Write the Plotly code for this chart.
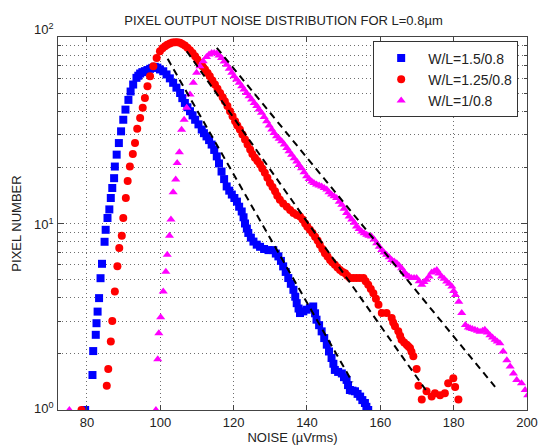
import plotly.graph_objects as go

# Noise histogram, W/L = 1.5/0.8 (blue squares)
noise_15 = [79.5, 81.5, 81.7, 82.4, 82.6, 82.9, 83.3, 83.7, 84.1, 84.8, 85.1, 85.6, 86.1, 86.5,
            86.9, 87.4, 87.6, 88.1, 88.7, 89.3, 89.9, 90.5, 91.3, 91.9, 92.6, 93.5, 94.0,
            94.5, 95.1, 95.8, 96.5, 97.2, 97.8, 98.5, 99.2, 99.9, 100.8, 101.7, 102.6,
            103.5, 104.4, 105.4, 106.0, 106.7, 107.4, 108.1, 108.8, 109.5, 110.4, 111.3,
            111.9, 112.6, 113.3, 114.0, 114.7, 115.4, 116.0, 116.7, 117.4, 118.1, 118.8,
            119.5, 120.2, 120.9, 121.5, 122.2, 122.7, 123.1, 123.6, 124.0, 124.7, 125.4,
            126.3, 127.2, 128.3, 129.5, 130.8, 131.5, 132.2, 132.9, 133.5, 134.2, 134.9,
            135.6, 136.3, 136.8, 137.2, 137.7, 138.1, 139.0, 139.9, 140.8, 141.7, 142.2,
            142.6, 143.3, 144.0, 144.7, 145.4, 146.0, 146.7, 147.2, 147.6, 148.5, 149.5,
            150.1, 150.8, 151.2, 151.7, 152.4, 153.1, 153.8, 154.5, 155.1, 155.8, 156.2,
            156.7]
count_15 = [1.0, 1.54, 2.07, 2.53, 2.92, 3.37, 3.98, 5.09, 6.08, 7.98, 9.25, 10.7, 11.9, 13.7,
            15.5, 17.5, 20.2, 23.4, 27.0, 31.2, 36.0, 40.8, 46.0, 51.0, 55.6, 60.4, 62.0,
            63.7, 64.8, 65.6, 66.5, 67.5, 68.3, 69.2, 68.5, 67.0, 65.5, 63.0, 60.0,
            56.8, 53.5, 50.1, 47.0, 44.3, 42.0, 40.0, 38.0, 36.0, 34.0, 31.9,
            30.5, 29.3, 28.0, 26.5, 24.8, 22.9, 21.0, 19.0, 17.3, 15.8, 15.0,
            14.3, 13.7, 13.1, 12.3, 11.6, 10.8, 10.0, 9.4, 8.9, 8.4, 8.0,
            7.7, 7.5, 7.3, 7.2, 7.2, 6.9, 6.66, 6.3, 5.89, 5.5, 5.1,
            4.75, 4.41, 4.05, 3.74, 3.5, 3.31, 3.38, 3.45, 3.52, 3.59, 3.3,
            3.05, 2.85, 2.64, 2.43, 2.24, 2.06, 1.9, 1.77, 1.64, 1.6, 1.57,
            1.5, 1.45, 1.36, 1.28, 1.27, 1.26, 1.22, 1.18, 1.13, 1.09, 1.04,
            1.0]

# Noise histogram, W/L = 1.25/0.8 (red circles)
noise_125 = [78.5, 85.4, 85.8, 86.5, 86.9, 87.6, 88.3, 88.8, 89.5, 89.9, 90.6, 91.1, 91.7,
             92.5, 93.1, 93.7, 94.5, 95.2, 95.8, 96.5, 97.2, 98.1, 99.0, 99.9, 100.6, 101.3,
             101.9, 102.6, 103.3, 104.0, 104.7, 105.4, 106.0, 106.7, 107.4, 108.1, 108.8,
             109.5, 110.1, 110.8, 111.5, 112.2, 112.9, 113.5, 114.2, 114.9, 115.6, 116.3,
             117.0, 117.6, 118.3, 119.0, 119.7, 120.4, 121.0, 121.7, 122.4, 123.1, 123.8,
             124.5, 125.1, 125.8, 126.5, 127.2, 127.8, 128.5, 129.2, 129.9, 130.6, 131.3,
             131.9, 132.6, 133.5, 134.5, 135.4, 136.3, 137.2, 138.1, 138.8, 139.5, 140.1,
             140.8, 141.5, 142.2, 142.9, 143.5, 144.2, 144.9, 145.6, 146.3, 146.9, 147.6,
             148.3, 149.0, 149.7, 150.4, 151.0, 151.7, 152.6, 153.5, 154.4, 155.4, 156.0,
             156.7, 157.4, 158.1, 158.8, 159.5, 160.4, 161.7, 163.1, 163.5, 164.0, 164.9,
             165.4, 165.8, 166.5, 167.2, 167.6, 168.1, 168.5, 169.0, 169.9, 170.4, 171.3,
             172.6, 174.0, 174.9, 176.3, 177.6, 178.5, 179.9, 180.4, 181.3]
count_125 = [1.0, 1.35, 1.66, 2.33, 3.0, 4.32, 5.89, 7.38, 8.59, 10.7, 13.7, 16.9, 20.2,
             23.6, 27.0, 32.2, 36.8, 41.7, 47.1, 54.4, 61.5, 69.6, 77.2, 83.9, 87.0, 89.3,
             91.0, 92.3, 93.3, 93.8, 93.8, 93.1, 91.8, 90.0, 87.7, 85.0, 82.0,
             78.9, 75.8, 72.6, 69.7, 66.9, 64.2, 61.5, 58.5, 55.6, 52.8, 50.1,
             47.6, 45.2, 42.6, 40.0, 37.6, 35.3, 33.5, 31.9, 30.0, 28.2, 26.5,
             24.9, 23.6, 22.5, 21.6, 20.7, 19.7, 18.7, 17.6, 16.5, 15.7, 14.9,
             14.1, 13.4, 12.8, 12.3, 11.8, 11.4, 11.1, 10.9, 10.5, 10.0, 9.6,
             9.25, 8.9, 8.5, 8.1, 7.69, 7.3, 6.93, 6.65, 6.38, 6.2, 6.0,
             5.8, 5.64, 5.5, 5.41, 5.25, 5.1, 5.1, 5.1, 5.1, 5.1, 4.9,
             4.69, 4.45, 4.23, 3.95, 3.67, 3.31, 3.31, 3.11, 2.95, 2.81, 2.64,
             2.5, 2.38, 2.3, 2.24, 2.2, 2.15, 2.05, 1.94, 1.66, 1.35, 1.14,
             1.26, 1.18, 1.23, 1.2, 1.23, 1.39, 1.48, 1.33, 1.14]

# Noise histogram, W/L = 1/0.8 (magenta triangles)
noise_10 = [75.2, 98.8, 99.3, 99.6, 100.1, 100.8, 101.5, 101.9, 102.5, 102.9, 103.5, 104.2,
            104.6, 105.2, 105.8, 106.5, 107.2, 108.1, 109.0, 109.9, 110.8, 111.7, 112.6,
            113.3, 114.0, 114.7, 115.4, 116.0, 116.7, 117.4, 118.1, 118.8, 119.5, 120.1,
            120.8, 121.5, 122.2, 122.8, 123.5, 124.2, 124.9, 125.6, 126.3, 126.9, 127.6,
            128.3, 129.0, 129.7, 130.4, 131.0, 131.7, 132.4, 133.1, 133.8, 134.5, 135.1,
            135.8, 136.5, 137.2, 137.8, 138.5, 139.2, 139.9, 140.6, 141.3, 141.9, 142.6,
            143.3, 144.0, 144.7, 145.4, 146.0, 146.7, 147.4, 148.1, 148.8, 149.5, 150.1,
            150.8, 151.5, 152.2, 152.9, 153.5, 154.2, 154.9, 155.6, 156.3, 156.9, 157.6,
            158.3, 159.0, 159.7, 160.4, 161.0, 161.7, 162.4, 163.1, 163.8, 164.5, 165.1,
            165.8, 166.5, 167.2, 167.8, 168.5, 169.2, 169.9, 170.6, 171.3, 171.9, 172.6,
            173.3, 174.0, 174.7, 175.4, 176.0, 176.7, 177.4, 178.1, 178.8, 179.5, 180.0,
            180.5, 181.4, 182.2, 183.2, 184.0, 184.5, 185.1, 185.8, 186.5, 187.2, 187.9,
            188.5, 189.2, 189.9, 190.6, 191.3, 191.9, 192.6, 193.5, 194.5, 195.4, 196.3,
            197.2, 198.5, 199.5, 200.2]
count_10 = [1.0, 1.0, 1.87, 2.58, 3.14, 4.32, 5.52, 6.79, 8.59, 10.5, 14.7, 17.2,
            21.1, 24.1, 31.8, 36.0, 41.7, 49.1, 56.8, 64.3, 69.6, 74.1, 78.2,
            80.5, 82.2, 82.0, 81.5, 79.5, 77.2, 74.0, 71.1, 67.5, 64.3, 61.5,
            59.2, 56.8, 54.5, 52.3, 50.1, 48.1, 46.2, 44.3, 42.6, 40.9, 39.2,
            37.2, 35.3, 33.5, 31.9, 30.6, 29.4, 28.5, 27.6, 26.5, 25.4, 24.4,
            23.4, 22.4, 21.5, 20.6, 19.8, 18.8, 17.9, 17.3, 16.8, 16.5, 16.2,
            16.0, 15.8, 15.5, 15.2, 14.7, 14.3, 14.0, 13.7, 13.1, 12.6, 12.0,
            11.4, 10.9, 10.5, 10.1, 9.64, 9.35, 9.06, 8.87, 8.69, 8.6, 8.51,
            8.2, 7.84, 7.5, 7.22, 7.0, 6.79, 6.6, 6.38, 6.25, 6.12, 5.95,
            5.75, 5.5, 5.3, 5.2, 5.1, 5.1, 5.1, 4.9, 4.69, 4.85, 4.99,
            5.2, 5.46, 5.55, 5.64, 5.4, 5.2, 5.05, 4.89, 4.75, 4.59, 4.35,
            4.14, 3.81, 3.31, 2.86, 2.77, 2.74, 2.72, 2.69, 2.66, 2.63, 2.66,
            2.69, 2.6, 2.52, 2.45, 2.38, 2.33, 2.28, 2.06, 1.85, 1.71, 1.57,
            1.45, 1.39, 1.28, 1.2]

# Exponential tail fits (start / end points), one per device
fit_x = [[102.0, 152.4], [107.2, 172.4], [115.4, 191.3]]
fit_y = [[76.4, 1.41], [83.9, 1.28], [87.5, 1.33]]

x_ticks = [80, 100, 120, 140, 160, 180, 200]
y_ticks = [1, 10, 100]
y_ticktext = ["10<sup>0</sup>", "10<sup>1</sup>", "10<sup>2</sup>"]
y_label_shift = [2, 0, 8]   # vertical nudge of each decade label, px
y_minor = [2, 3, 4, 5, 6, 7, 8, 9, 20, 30, 40, 50, 60, 70, 80, 90]

FONT = "Liberation Sans, Arial, sans-serif"
INK = "#222222"
GRID = "#6e6e6e"
FRAME = "#444444"

fig = go.Figure()

series = [
    (noise_15, count_15, "W/L=1.5/0.8", "#0000ff", "square", 8),
    (noise_125, count_125, "W/L=1.25/0.8", "#ff0000", "circle", 8),
    (noise_10, count_10, "W/L=1/0.8", "#ff00ff", "triangle-up", 8),
]
for xs, ys, name, color, symbol, size in series:
    fig.add_trace(go.Scatter(
        x=xs, y=ys, mode="markers", name=name,
        marker=dict(color=color, symbol=symbol, size=size, line=dict(width=0)),
    ))

for fx, fy in zip(fit_x, fit_y):
    fig.add_trace(go.Scatter(
        x=fx, y=fy, mode="lines", showlegend=False, hoverinfo="skip",
        line=dict(color="black", width=2, dash="7px,5px"),
    ))

fig.update_layout(
    width=538, height=448,
    margin=dict(l=58, r=11, t=37, b=38),
    paper_bgcolor="white", plot_bgcolor="white",
    font=dict(family=FONT, size=13, color=INK),
    title=dict(text="PIXEL OUTPUT NOISE DISTRIBUTION FOR L=0.8µm",
               x=0.527, xanchor="center", y=1 - 20 / 448, yanchor="middle",
               yref="container", font=dict(size=13, color=INK)),
    legend=dict(x=0.672, y=0.988, xanchor="left", yanchor="top",
                bgcolor="white", bordercolor="#333333", borderwidth=1,
                font=dict(size=14, color=INK), itemwidth=44,
                tracegroupgap=0),
    showlegend=True,
)

# decade labels of the log axis, placed individually
for val, txt, dy in zip(y_ticks, y_ticktext, y_label_shift):
    fig.add_annotation(
        x=0, xref="paper", y=[0, 1, 2][y_ticks.index(val)], yref="y",
        xanchor="right", yanchor="middle", xshift=-2, yshift=dy,
        showarrow=False, text=txt, font=dict(size=13, color=INK),
    )

fig.update_xaxes(
    range=[72.1, 200], tickvals=x_ticks, automargin=False,
    showline=True, linecolor=FRAME, linewidth=1, mirror="allticks",
    ticks="inside", ticklen=5, tickcolor=FRAME,
    showgrid=True, gridcolor=GRID, griddash="1px,3px", gridwidth=1,
    zeroline=False,
    title=dict(text="NOISE (µVrms)", standoff=4, font=dict(size=13)),
    tickfont=dict(size=13),
)
fig.update_yaxes(
    type="log", range=[0, 2], tickvals=y_ticks, showticklabels=False,
    automargin=False,
    showline=True, linecolor=FRAME, linewidth=1, mirror="allticks",
    ticks="inside", ticklen=6, tickcolor=FRAME,
    showgrid=True, gridcolor=GRID, griddash="1px,3px", gridwidth=1,
    minor=dict(tickvals=y_minor, ticks="inside", ticklen=3, tickcolor=FRAME,
               showgrid=True, gridcolor=GRID, griddash="1px,3px", gridwidth=1),
    zeroline=False,
    title=dict(text="PIXEL NUMBER", standoff=32, font=dict(size=13)),
)

fig.write_html("out.html")
